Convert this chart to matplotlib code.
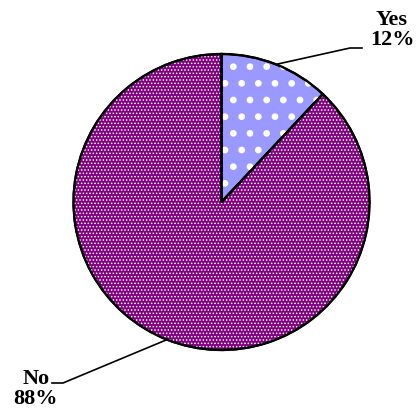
import matplotlib
matplotlib.use('Agg')
import matplotlib.pyplot as plt
import numpy as np

labels = ['Yes', 'No']
shares = [12, 88]
fills = ['#9999FF', '#800080']
dot_patterns = ['.', '.....']
dot_widths = [2.4, 0.7]

W, H = 420, 413
cx, cy, r = 221.5, H - 202, 148

fig = plt.figure(figsize=(W / 100, H / 100), dpi=100)
ax = fig.add_axes([0, 0, 1, 1])

# base wedges with black outline
wedges, _ = ax.pie(shares, colors=fills, startangle=90, counterclock=False,
                   center=(cx, cy), radius=r,
                   wedgeprops=dict(edgecolor='black', linewidth=1.6))

# white dot patterns on top
for w, pat, lw in zip(wedges, dot_patterns, dot_widths):
    with plt.rc_context({'hatch.linewidth': lw, 'hatch.color': 'white'}):
        ax.add_patch(matplotlib.patches.Wedge((cx, cy), r, w.theta1, w.theta2,
                                              facecolor='none', edgecolor='white',
                                              hatch=pat, linewidth=0))
# redraw outlines above the patterns
for w in wedges:
    ax.add_patch(matplotlib.patches.Wedge((cx, cy), r, w.theta1, w.theta2,
                                          facecolor='none', edgecolor='black',
                                          linewidth=1.6))

# leader lines and labels
kinks = [(350, H - 48, 362), (63, H - 383, 52)]
text_pos = [(392, H - 30), (36, H - 389)]
for w, lab, sh, (kx, ky, ex), (tx, ty) in zip(wedges, labels, shares, kinks, text_pos):
    mid = np.deg2rad((w.theta1 + w.theta2) / 2)
    px, py = cx + r * np.cos(mid), cy + r * np.sin(mid)
    ax.plot([px, kx, ex], [py, ky, ky], color='black', linewidth=1.2)
    ax.text(tx, ty, f'{lab}\n{sh}%', ha='center', va='center',
            fontsize=16, fontweight='bold', family='Liberation Serif',
            linespacing=1.0)

ax.set_xlim(0, W)
ax.set_ylim(0, H)
ax.set_aspect('equal')
ax.axis('off')

fig.savefig('out.png', dpi=100)
